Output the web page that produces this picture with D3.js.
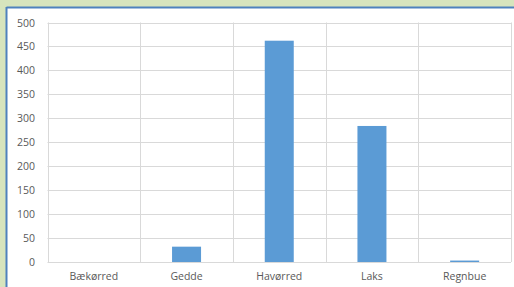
<!DOCTYPE html>
<html><head><meta charset="utf-8">
<script src="https://cdn.jsdelivr.net/npm/d3@7"></script>
<style>
html,body{margin:0;padding:0;background:#d7e4bd;}
svg{display:block;}
</style></head>
<body>
<svg id="c" width="514" height="287"></svg>
<script>
const categories = ["Bækørred","Gedde","Havørred","Laks","Regnbue"];
const values = [0, 32, 462, 284, 3];
const yTicks = [0,50,100,150,200,250,300,350,400,450,500];

const W = 514, H = 287;
const svg = d3.select("#c");
// background & frame
svg.append("rect").attr("x",0).attr("y",0).attr("width",W).attr("height",H).attr("fill","#d7e4bd");
svg.append("rect").attr("x",7).attr("y",8).attr("width",W).attr("height",H).attr("fill","#ffffff");
svg.append("line").attr("x1",6.5).attr("x2",W).attr("y1",7.5).attr("y2",7.5).attr("stroke","#4f81bd").attr("stroke-width",2);
svg.append("line").attr("x1",6.5).attr("x2",6.5).attr("y1",7).attr("y2",H).attr("stroke","#4f81bd").attr("stroke-width",2);

const m = {left:47.5, right:511, top:22.5, bottom:262};
const x = d3.scaleBand().domain(categories).range([m.left, m.right]).paddingInner(0).paddingOuter(0);
const y = d3.scaleLinear().domain([0,500]).range([m.bottom, m.top]);

const grid = svg.append("g");
grid.selectAll("line.h").data(yTicks).join("line")
  .attr("x1",m.left).attr("x2",m.right)
  .attr("y1",d=>Math.round(y(d))+0.5).attr("y2",d=>Math.round(y(d))+0.5)
  .attr("stroke","#d9d9d9").attr("stroke-width",1);
const vx = categories.map(c=>x(c)).concat([m.right]);
grid.selectAll("line.v").data(vx).join("line")
  .attr("x1",d=>Math.round(d)+0.5).attr("x2",d=>Math.round(d)+0.5)
  .attr("y1",m.top).attr("y2",m.bottom)
  .attr("stroke","#d9d9d9").attr("stroke-width",1);

const barW = 29;
svg.append("g").selectAll("rect").data(values).join("rect")
  .attr("x",(d,i)=>x(categories[i])+x.bandwidth()/2-barW/2)
  .attr("width",barW)
  .attr("y",d=>y(d))
  .attr("height",d=>y(0)-y(d))
  .attr("fill","#5b9bd5");

const font = "'Open Sans', 'Noto Sans', sans-serif";
svg.append("g").selectAll("text").data(yTicks).join("text")
  .attr("x",35).attr("y",d=>y(d)+4)
  .attr("text-anchor","end")
  .attr("font-family",font).attr("font-size",10.5)
  .attr("fill","#595959")
  .text(d=>d);

svg.append("g").selectAll("text").data(categories).join("text")
  .attr("x",d=>x(d)+x.bandwidth()/2).attr("y",280)
  .attr("text-anchor","middle")
  .attr("font-family",font).attr("font-size",10.5)
  .attr("fill","#595959")
  .text(d=>d);
</script>
</body></html>
